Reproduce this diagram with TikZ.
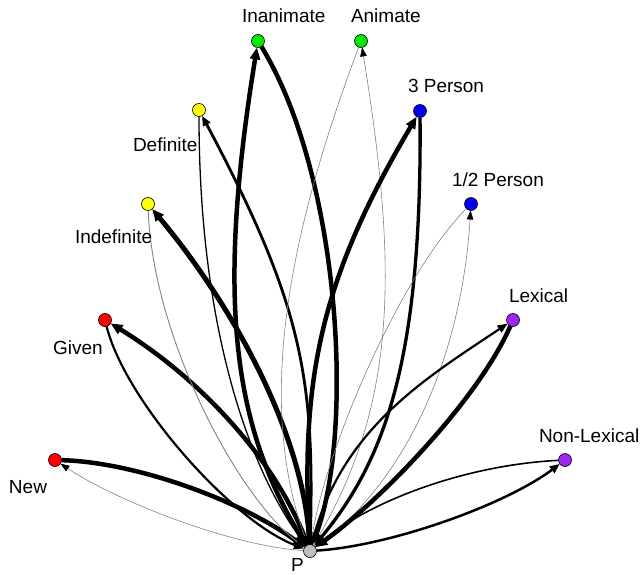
\documentclass[tikz,border=0pt]{standalone}
\usepackage{fontspec}
\setmainfont{Liberation Sans}
\usetikzlibrary{arrows.meta,backgrounds}
\definecolor{cRed}{RGB}{255,0,0}
\definecolor{cYel}{RGB}{255,255,0}
\definecolor{cGrn}{RGB}{0,235,0}
\definecolor{cBlu}{RGB}{0,0,240}
\definecolor{cPur}{RGB}{155,40,240}
\definecolor{cGry}{RGB}{190,190,190}
\definecolor{eGry}{RGB}{130,130,130}
\newcommand\labfont{\fontsize{19}{23}\selectfont}
\tikzset{
  vert/.style={circle, draw=black, line width=0.6pt, minimum size=13pt, inner sep=0pt, outer sep=0pt},
  lab/.style={anchor=base west, inner sep=0pt, outer sep=0pt, font=\labfont},
  ehair/.style={draw=eGry, line width=0.6pt},
  eone/.style={draw=black, line width=1.3pt},
  etwo/.style={draw=black, line width=2.2pt},
  ethree/.style={draw=black, line width=3.3pt},
  efour/.style={draw=black, line width=4.5pt},
  tipS/.style={-{Triangle[length=9pt,width=6.5pt,color=black]}},
  tipM/.style={-{Triangle[length=10pt,width=8pt,color=black]}},
  tipL/.style={-{Triangle[length=12pt,width=10pt,color=black]}},
}
\begin{document}
\begin{tikzpicture}[x=1pt,y=-1pt]
\useasboundingbox (0,0) rectangle (642,575);
% vertices
\node[vert, fill=cGry] (P) at (310,551) {};
\node[vert, fill=cRed] (New) at (55,460) {};
\node[vert, fill=cRed] (Giv) at (105,320) {};
\node[vert, fill=cYel] (Ind) at (148,204) {};
\node[vert, fill=cYel] (Def) at (199,110) {};
\node[vert, fill=cGrn] (Inan) at (258,41) {};
\node[vert, fill=cGrn] (Anim) at (361,41) {};
\node[vert, fill=cBlu] (Thr) at (420,111) {};
\node[vert, fill=cBlu] (Half) at (471,204) {};
\node[vert, fill=cPur] (Lex) at (513,320) {};
\node[vert, fill=cPur] (NLex) at (565,460) {};
% labels
\node[lab] (lInan) at (242,23) {Inanimate};
\node[lab] (lAnim) at (351,23) {Animate};
\node[lab] (lThr) at (408,93) {3 Person};
\node[lab] (lHalf) at (452,186) {1/2 Person};
\node[lab] (lLex) at (509,302) {Lexical};
\node[lab] (lNLex) at (539,442) {Non-Lexical};
\node[lab] (lDef) at (133,151) {Definite};
\node[lab] (lInd) at (75,243) {Indefinite};
\node[lab] (lGiv) at (53,354) {Given};
\node[lab] (lNew) at (9,493) {New};
\node[lab] (lP) at (291,571) {P};
\begin{pgfonlayer}{background}
% New
\draw[efour, tipL] (New) .. controls (135,462) and (240,500) .. (P);
\draw[ehair, tipS] (P) .. controls (230,546) and (115,500) .. (New);
% Given
\draw[efour, tipL] (P) .. controls (275,456) and (195,375) .. (Giv);
\draw[etwo, tipM] (Giv) .. controls (125,400) and (230,520) .. (P);
% Indefinite
\draw[efour, line width=5pt, tipL] (P) .. controls (305,440) and (238,312) .. (Ind);
\draw[ehair, line width=0.9pt, tipS] (Ind) .. controls (153,340) and (240,500) .. (P);
% Definite
\draw[eone, tipS] (Def) .. controls (199,330) and (250,470) .. (P);
\draw[ethree, line width=2.8pt, tipM] (P) .. controls (315,380) and (304,307) .. (Def);
% Inanimate
\draw[efour, tipL] (P) .. controls (232,430) and (216,300) .. (Inan);
\draw[efour, tipL] (Inan) .. controls (340,175) and (355,430) .. (P);
% Animate
\draw[ehair, tipS] (Anim) .. controls (290,230) and (255,400) .. (P);
\draw[ehair, tipS] (P) .. controls (395,410) and (400,280) .. (Anim);
% 3 Person
\draw[efour, tipL] (P) .. controls (300,380) and (320,280) .. (Thr);
\draw[ethree, tipL] (Thr) .. controls (422,360) and (385,460) .. (P);
% 1/2 Person
\draw[ehair, tipS] (Half) .. controls (400,275) and (325,451) .. (P);
\draw[ehair, tipS] (P) .. controls (410,480) and (462,350) .. (Half);
% Lexical
\draw[etwo, tipM] (P) .. controls (340,430) and (423,380) .. (Lex);
\draw[efour, tipL] (Lex) .. controls (478,400) and (380,501) .. (P);
% Non-Lexical
\draw[eone, line width=1.6pt, tipS] (NLex) .. controls (465,465) and (370,501) .. (P);
\draw[etwo, line width=2.5pt, tipM] (P) .. controls (390,546) and (505,505) .. (NLex);
\end{pgfonlayer}
\end{tikzpicture}
\end{document}
